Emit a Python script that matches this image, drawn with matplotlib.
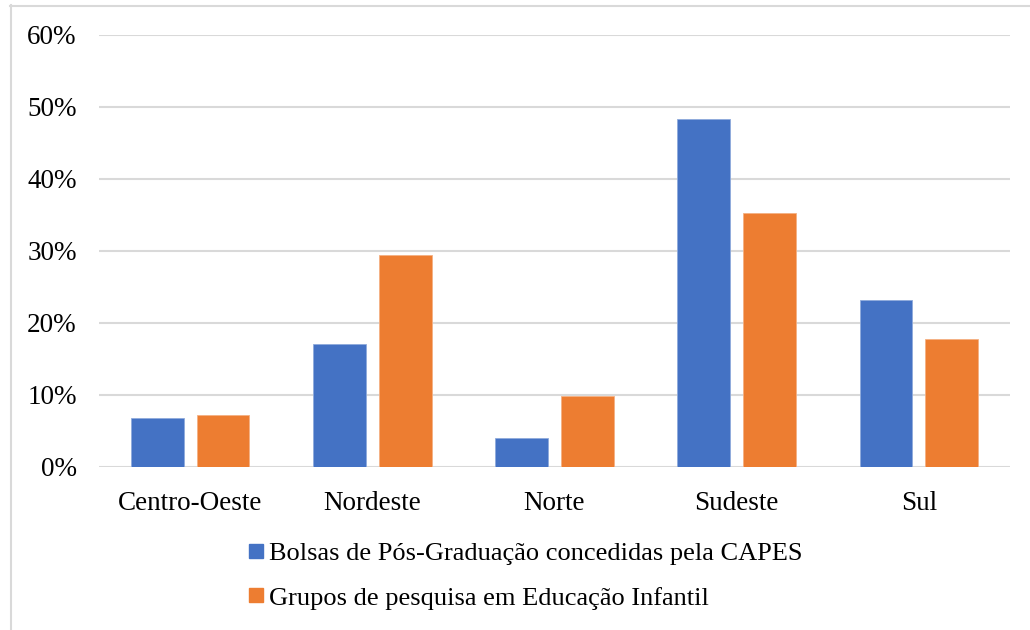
import matplotlib
matplotlib.use("Agg")
import matplotlib.pyplot as plt
from matplotlib.lines import Line2D
from matplotlib.ticker import FuncFormatter
import numpy as np

plt.rcParams['font.family'] = ['Liberation Serif', 'DejaVu Serif']

categories = ["Centro-Oeste", "Nordeste", "Norte", "Sudeste", "Sul"]
bolsas = [6.8, 17.1, 4.0, 48.4, 23.2]
grupos = [7.2, 29.4, 9.9, 35.3, 17.8]
series_names = ["Bolsas de Pós-Graduação concedidas pela CAPES",
                "Grupos de pesquisa em Educação Infantil"]
colors = ["#4472C4", "#ED7D31"]

W, H = 1030, 630
fig = plt.figure(figsize=(W / 100, H / 100), dpi=100)
ax = fig.add_axes([99 / W, (H - 467) / H, (1010 - 99) / W, (467 - 35) / H])

x = np.arange(len(categories))
bw = 0.29
off = 0.181
ax.bar(x - off, bolsas, bw, color=colors[0], edgecolor="#8faadc", linewidth=0.6, zorder=3)
ax.bar(x + off, grupos, bw, color=colors[1], edgecolor="#f4b183", linewidth=0.6, zorder=3)

ax.set_xlim(-0.5, len(categories) - 0.5)
ax.set_ylim(0, 60)
ax.set_yticks(np.arange(0, 61, 10))
ax.yaxis.set_major_formatter(FuncFormatter(lambda v, p: f"{int(v)}%"))
ax.set_xticks(x)
ax.set_xticklabels(categories)
ax.grid(axis="y", color="#d9d9d9", linewidth=1.5, zorder=0)
for s in ax.spines.values():
    s.set_visible(False)
ax.tick_params(axis="both", length=0, labelsize=19.5, colors="black")
ax.tick_params(axis="x", pad=17)
ax.tick_params(axis="y", pad=16)

# legend
handles = [Line2D([], [], marker="s", linestyle="none", markersize=10.5,
                  markerfacecolor=c, markeredgecolor=c) for c in colors]
fig.legend(handles, series_names, loc="upper left",
           bbox_to_anchor=(245 / W, (H - 542) / H), ncol=1, frameon=False,
           fontsize=19, handletextpad=0.12, labelspacing=0.78,
           handlelength=0.8, borderaxespad=0, borderpad=0)

# outer border (top and left visible)
fig.add_artist(Line2D([10 / W, 1.0], [(H - 5.5) / H, (H - 5.5) / H],
                      transform=fig.transFigure, color="#d9d9d9", linewidth=1.5))
fig.add_artist(Line2D([10.5 / W, 10.5 / W], [0, (H - 5) / H],
                      transform=fig.transFigure, color="#d9d9d9", linewidth=1.5))

fig.savefig("out.png", dpi=100)
